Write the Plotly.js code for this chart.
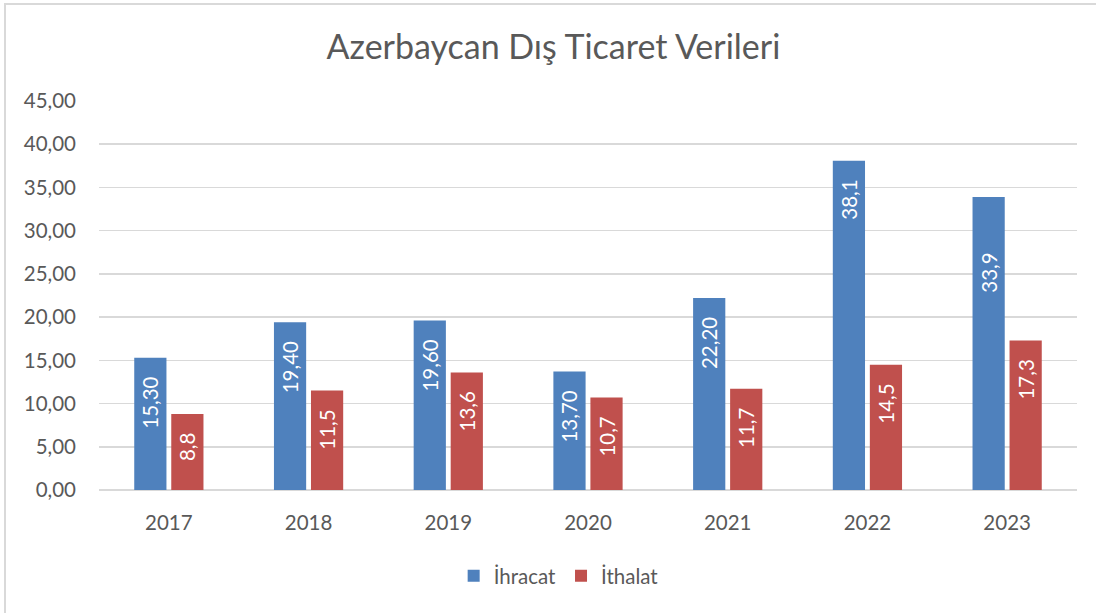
<!DOCTYPE html>
<html>
<head>
<meta charset="utf-8">
<script src="https://cdn.plot.ly/plotly-3.0.1.min.js"></script>
<style>
  html, body { margin: 0; padding: 0; background: #ffffff; overflow: hidden; }
  #chart { position: absolute; left: 0; top: 0; width: 1096px; height: 613px; }
  #frame { position: absolute; left: 4px; top: 3px; width: 1100px; height: 620px;
           border: 2px solid #d9d9d9; box-sizing: border-box; pointer-events: none; }
</style>
</head>
<body>
<div id="chart"></div>
<div id="frame"></div>
<script>
// ---- data ----
const years = ["2017", "2018", "2019", "2020", "2021", "2022", "2023"];
const ihracat = [15.30, 19.40, 19.60, 13.70, 22.20, 38.1, 33.9];
const ithalat = [8.8, 11.5, 13.6, 10.7, 11.7, 14.5, 17.3];
const ihracatLabels = ["15,30", "19,40", "19,60", "13,70", "22,20", "38,1", "33,9"];
const ithalatLabels = ["8,8", "11,5", "13,6", "10,7", "11,7", "14,5", "17,3"];
const yTickVals = [0, 5, 10, 15, 20, 25, 30, 35, 40, 45];
const yTickText = ["0,00", "5,00", "10,00", "15,00", "20,00", "25,00", "30,00", "35,00", "40,00", "45,00"];

// ---- style (label padding from bar end, in no-break spaces) ----
const padIhracat = [3, 3, 3, 3, 3, 3, 10];
const padIthalat = [3, 3, 3, 3, 3, 3, 3];
const pad = (s, n) => s + "\u00a0".repeat(n);

const FONT = "Lato, 'Open Sans', sans-serif";
const GREY = "#595959";

const traces = [
  {
    type: "bar", name: "İhracat", x: years, y: ihracat,
    text: ihracatLabels.map((s, i) => pad(s, padIhracat[i])),
    textposition: "inside", insidetextanchor: "end", textangle: -90,
    textfont: { family: FONT, size: 20.5, color: "#ffffff" },
    marker: { color: "#4f81bd" }, hoverinfo: "skip", cliponaxis: false
  },
  {
    type: "bar", name: "İthalat", x: years, y: ithalat,
    text: ithalatLabels.map((s, i) => pad(s, padIthalat[i])),
    textposition: "inside", insidetextanchor: "end", textangle: -90,
    textfont: { family: FONT, size: 20.5, color: "#ffffff" },
    marker: { color: "#c0504d" }, hoverinfo: "skip", cliponaxis: false
  }
];

const layout = {
  width: 1096, height: 613,
  margin: { l: 99, r: 19, t: 101, b: 123 },
  paper_bgcolor: "rgba(0,0,0,0)", plot_bgcolor: "#ffffff",
  font: { family: FONT, color: GREY },
  title: {
    text: "Azerbaycan Dış Ticaret Verileri",
    font: { family: FONT, size: 34, color: GREY },
    x: 0.505, xref: "container", xanchor: "center",
    y: 0.923, yref: "container", yanchor: "middle"
  },
  barmode: "group", bargap: 0.47, bargroupgap: 0.13,
  xaxis: {
    type: "category", showgrid: false, zeroline: false, showline: false,
    ticks: "", tickfont: { family: FONT, size: 20.5, color: GREY }, ticklabelstandoff: 18
  },
  yaxis: {
    range: [0, 45], tickvals: yTickVals, ticktext: yTickText,
    showgrid: true, gridcolor: "#d9d9d9", gridwidth: 1.5,
    zeroline: true, zerolinecolor: "#d9d9d9", zerolinewidth: 1.5,
    showline: false, ticks: "",
    tickfont: { family: FONT, size: 20.5, color: GREY }, ticklabelstandoff: 22
  },
  showlegend: true,
  legend: {
    orientation: "h", x: 0.47, xanchor: "center", y: -0.221, yanchor: "middle",
    font: { family: FONT, size: 20.5, color: GREY }, itemwidth: 20,
    traceorder: "normal"
  }
};

Plotly.newPlot("chart", traces, layout, { staticPlot: true, displayModeBar: false });
</script>
</body>
</html>
